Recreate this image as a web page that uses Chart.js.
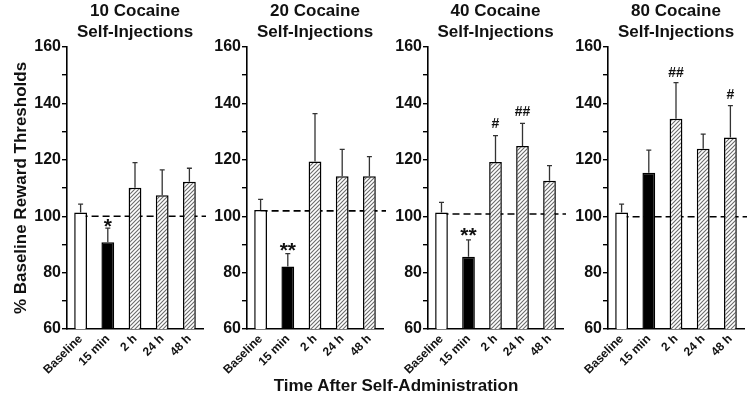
<!DOCTYPE html>
<html>
<head>
<meta charset="utf-8">
<script src="https://cdn.jsdelivr.net/npm/chart.js@4.4.0/dist/chart.umd.min.js"></script>
<style>
  body { margin: 0; background: #fff; }
  #wrap { position: relative; width: 750px; height: 402px; font-family: "Liberation Sans", Arial, sans-serif; }
  #wrap canvas { position: absolute; left: 0; top: 0; }
  #xtitle { position: absolute; left: 0; top: 376px; width: 792px; text-align: center;
            font-weight: bold; font-size: 17px; color: #111; }
</style>
</head>
<body>
<div id="wrap">
  <canvas id="c10" width="750" height="402"></canvas>
  <canvas id="c20" width="750" height="402"></canvas>
  <canvas id="c40" width="750" height="402"></canvas>
  <canvas id="c80" width="750" height="402"></canvas>
  <div id="xtitle">Time After Self-Administration</div>
</div>
<script>
// categories shared by every panel
var categories = ['Baseline', '15 min', '2 h', '24 h', '48 h'];
var yTicksMajor = [60, 80, 100, 120, 140, 160];

// 10 cocaine self-injections
var title10 = ['10 Cocaine', 'Self-Injections'];
var mean10 = [101.3, 90.8, 110.1, 107.4, 112.2];
var sem10 = [3.0, 5.0, 8.9, 9.0, 4.8];
var marks10 = ['', '*', '', '', ''];
var markAt10 = [null, 97.5, null, null, null];
var ref10 = 100;

// 20 cocaine self-injections
var title20 = ['20 Cocaine', 'Self-Injections'];
var mean20 = [102.2, 82.2, 119.4, 114.2, 114.2];
var sem20 = [3.8, 4.5, 17.0, 9.5, 6.9];
var marks20 = ['', '**', '', '', ''];
var markAt20 = [null, 89, null, null, null];
var ref20 = 101.9;

// 40 cocaine self-injections
var title40 = ['40 Cocaine', 'Self-Injections'];
var mean40 = [101.3, 85.6, 119.2, 124.9, 112.6];
var sem40 = [3.6, 6.0, 9.4, 8.0, 5.3];
var marks40 = ['', '**', '#', '##', ''];
var markAt40 = [null, 94.3, 132.6, 136.8, null];
var ref40 = 100.8;

// 80 cocaine self-injections
var title80 = ['80 Cocaine', 'Self-Injections'];
var mean80 = [101.3, 115.4, 134.6, 123.9, 127.9];
var sem80 = [3.0, 8.0, 12.8, 5.2, 11.3];
var marks80 = ['', '', '##', '', '#'];
var markAt80 = [null, null, 150.8, null, 143.1];
var ref80 = 99.8;

var FONT = '"Liberation Sans", Arial, sans-serif';

function makeHatch() {
    var c = document.createElement('canvas');
    c.width = 4; c.height = 4;
    var g = c.getContext('2d');
    g.fillStyle = '#fff';
    g.fillRect(0, 0, 4, 4);
    g.strokeStyle = '#6a6a6a';
    g.lineWidth = 1.1;
    g.beginPath();
    g.moveTo(-1, 5); g.lineTo(5, -1);
    g.moveTo(-1, 1); g.lineTo(1, -1);
    g.moveTo(3, 5); g.lineTo(5, 3);
    g.stroke();
    return g.createPattern(c, 'repeat');
}
var hatch = makeHatch();

// dashed line, error bars, significance marks and panel titles
var extras = {
    id: 'extras',
    beforeDatasetsDraw: function(chart, args, o) {
        var ctx = chart.ctx, area = chart.chartArea;
        var y = chart.scales.y.getPixelForValue(o.ref);
        ctx.save();
        ctx.setLineDash([7, 4]);
        ctx.lineWidth = 1.6;
        ctx.strokeStyle = '#000';
        ctx.beginPath();
        ctx.moveTo(chart.scales.x.getPixelForValue(0), y);
        ctx.lineTo(area.right + 3, y);
        ctx.stroke();
        ctx.restore();
    },
    afterDatasetsDraw: function(chart, args, o) {
        var ctx = chart.ctx, area = chart.chartArea;
        var xs = chart.scales.x, ys = chart.scales.y;
        ctx.save();
        ctx.strokeStyle = '#333';
        ctx.lineWidth = 1.3;
        o.means.forEach(function(m, i) {
            var x = xs.getPixelForValue(i);
            var y0 = ys.getPixelForValue(m);
            var y1 = ys.getPixelForValue(m + o.sem[i]);
            ctx.beginPath();
            ctx.moveTo(x, y0); ctx.lineTo(x, y1);
            ctx.moveTo(x - 2.5, y1); ctx.lineTo(x + 2.5, y1);
            ctx.stroke();
        });
        ctx.fillStyle = '#111';
        ctx.textAlign = 'center';
        ctx.textBaseline = 'middle';
        o.marks.forEach(function(t, i) {
            if (!t) return;
            var isStar = t.indexOf('*') >= 0;
            ctx.font = 'bold ' + (isStar ? 21 : 14) + 'px ' + FONT;
            var y = ys.getPixelForValue(o.markAt[i]) + (isStar ? 4 : 0);
            ctx.fillText(t, xs.getPixelForValue(i), y);
        });
        ctx.font = 'bold 17px ' + FONT;
        var cx = (area.left + area.right) / 2;
        ctx.fillText(o.title[0], cx, 11);
        ctx.fillText(o.title[1], cx, 32);
        ctx.restore();
    }
};

function makePanel(id, axisLeft, axisRight, yWidth, title, means, sem, marks, markAt, ref, showYTitle) {
    return new Chart(document.getElementById(id), {
        type: 'bar',
        data: {
            labels: categories,
            datasets: [{
                data: means,
                backgroundColor: ['#fff', '#000', hatch, hatch, hatch],
                borderColor: '#000',
                borderWidth: 1.5,
                barPercentage: 0.47,
                categoryPercentage: 1
            }]
        },
        options: {
            responsive: false,
            animation: false,
            layout: { padding: { left: axisLeft - yWidth, right: 750 - axisRight, top: 47, bottom: 21 } },
            plugins: {
                legend: { display: false },
                tooltip: { enabled: false },
                extras: { title: title, means: means, sem: sem, marks: marks, markAt: markAt, ref: ref }
            },
            scales: {
                x: {
                    ticks: {
                        autoSkip: false, maxRotation: 45, minRotation: 45, padding: 3,
                        color: '#111', font: { family: FONT, size: 12, weight: 'bold' }
                    },
                    grid: { display: false, drawTicks: false },
                    border: { color: '#000', width: 1.6 },
                    afterFit: function(s) { s.height = 52; }
                },
                y: {
                    min: 60, max: 160,
                    ticks: {
                        stepSize: 10, padding: 1, color: '#111',
                        font: { family: FONT, size: 16, weight: 'bold' },
                        callback: function(v) { return yTicksMajor.indexOf(v) >= 0 ? v : ''; }
                    },
                    grid: { drawOnChartArea: false, drawTicks: true, tickLength: 5, color: '#000', lineWidth: 1.4 },
                    border: { color: '#000', width: 1.6 },
                    title: {
                        display: showYTitle, text: '% Baseline Reward Thresholds', color: '#111',
                        font: { family: FONT, size: 17, weight: 'bold' }, padding: { top: 11, bottom: 0 }
                    },
                    afterFit: function(s) { s.width = yWidth; }
                }
            }
        },
        plugins: [extras]
    });
}

makePanel('c10', 67, 203, 67, title10, mean10, sem10, marks10, markAt10, ref10, true);
makePanel('c20', 247, 383, 40, title20, mean20, sem20, marks20, markAt20, ref20, false);
makePanel('c40', 428, 563, 40, title40, mean40, sem40, marks40, markAt40, ref40, false);
makePanel('c80', 608, 744, 40, title80, mean80, sem80, marks80, markAt80, ref80, false);
</script>
</body>
</html>
